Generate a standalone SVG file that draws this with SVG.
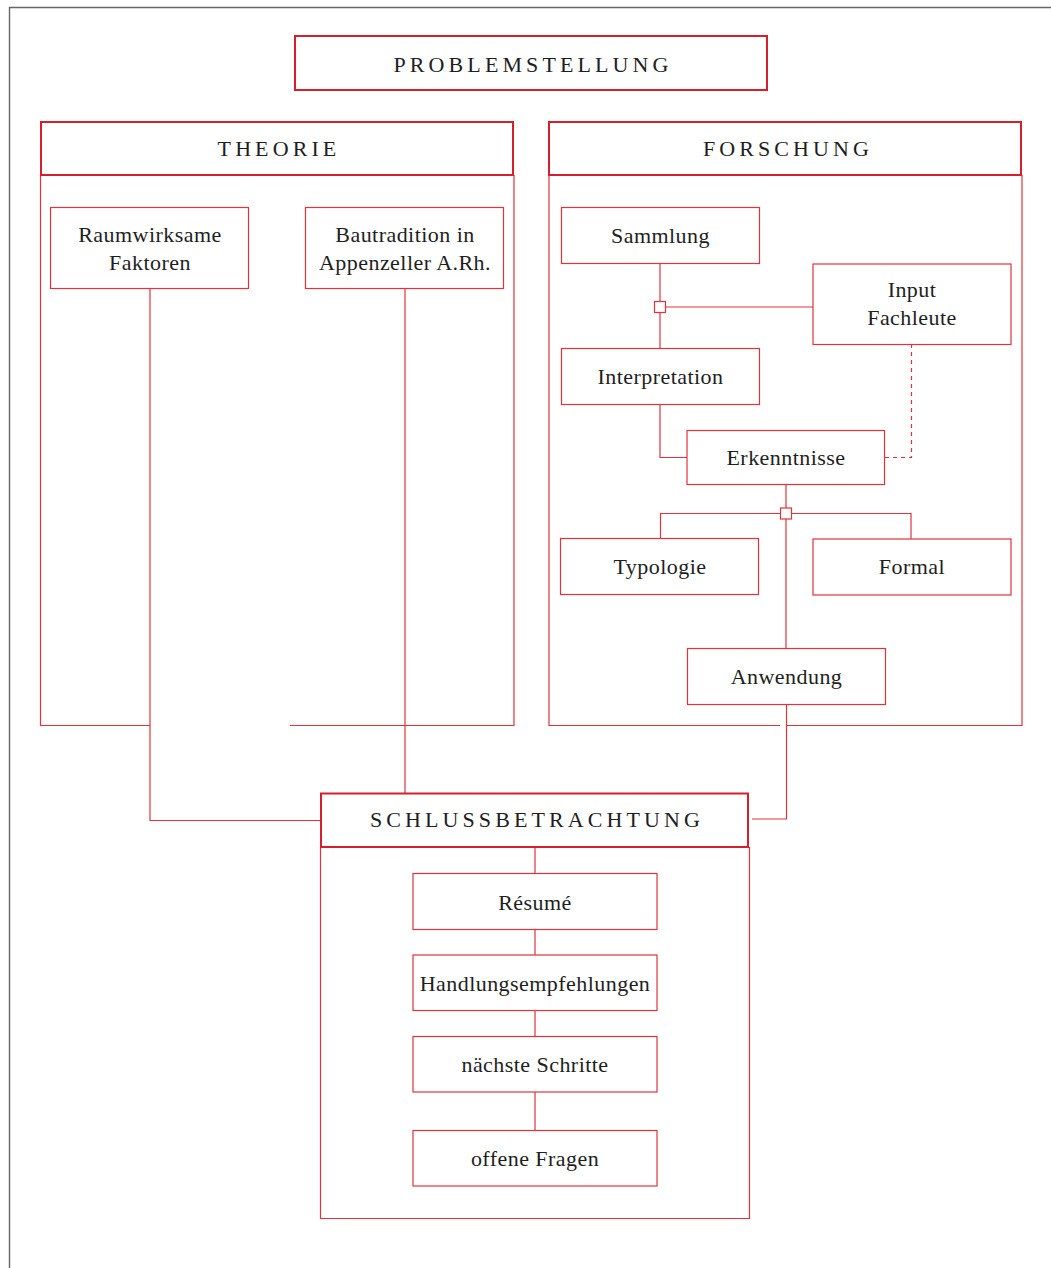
<svg xmlns="http://www.w3.org/2000/svg" width="1051" height="1268" viewBox="0 0 1051 1268">
<style>
.hd{fill:#fff;stroke:#d81e2a;stroke-width:2}
.bx{fill:#fff;stroke:#e2333d;stroke-width:1.2}
.ln{fill:none;stroke:#e2333d;stroke-width:1.2}
.ds{fill:none;stroke:#e2333d;stroke-width:1.2;stroke-dasharray:4 4}
.ht{font-family:"Liberation Serif",serif;font-size:22px;letter-spacing:4.1px;fill:#1e1e1e;text-anchor:middle}
.nt{font-family:"Liberation Serif",serif;font-size:22px;letter-spacing:0.45px;fill:#1e1e1e;text-anchor:middle}
</style>
<rect width="1051" height="1268" fill="#fff"/>
<path d="M9.5 1268 V7.5 H1051" fill="none" stroke="#666" stroke-width="1.4"/>

<g id="containers">
<path class="ln" d="M150 725.5 H40.5 V175 M290 725.5 H514 V175"/>
<path class="ln" d="M780 725.5 H549 V175 M787 725.5 H1022 V175"/>
<path class="ln" d="M320.5 847 V1218.5 H749.5 V847"/>
</g>

<g id="connectors">
<path class="ln" d="M150 288 V820.5 H321"/>
<path class="ln" d="M405 289 V793"/>
<path class="ln" d="M660 263 V348"/>
<path class="ln" d="M665.5 307 H813"/>
<path class="ln" d="M660 404 V457.5 H687"/>
<path class="ds" d="M911.5 344 V457.5 H884"/>
<path class="ln" d="M786 484 V508"/>
<path class="ln" d="M780 513.5 H660.5 V538 M791.5 513.5 H911 V539"/>
<path class="ln" d="M786 519 V648"/>
<path class="ln" d="M786.5 704 V819 H752"/>
<path class="ln" d="M535 847 V873 M535 929 V955 M535 1010 V1036 M535 1092 V1130"/>
<rect class="bx" x="654.5" y="301.5" width="11" height="11"/>
<rect class="bx" x="780.5" y="508" width="11" height="11"/>
</g>

<g id="problemstellung">
<rect class="hd" x="295" y="36" width="472" height="54"/>
<text class="ht" x="533" y="71.5">PROBLEMSTELLUNG</text>
</g>
<g id="theorie">
<rect class="hd" x="41" y="122" width="472" height="53"/>
<text class="ht" x="279" y="156">THEORIE</text>
</g>
<g id="forschung">
<rect class="hd" x="549" y="122" width="472" height="53"/>
<text class="ht" x="788" y="156">FORSCHUNG</text>
</g>
<g id="schlussbetrachtung">
<rect class="hd" x="321" y="793.5" width="427" height="53.5"/>
<text class="ht" x="537" y="827">SCHLUSSBETRACHTUNG</text>
</g>

<g id="raumwirksame">
<rect class="bx" x="50.5" y="207.5" width="198" height="81"/>
<text class="nt" x="150" y="242">Raumwirksame</text>
<text class="nt" x="150" y="269.5">Faktoren</text>
</g>
<g id="bautradition">
<rect class="bx" x="305.5" y="207.5" width="198" height="81"/>
<text class="nt" x="405" y="242">Bautradition in</text>
<text class="nt" x="405" y="269.5">Appenzeller A.Rh.</text>
</g>
<g id="sammlung">
<rect class="bx" x="561.5" y="207.5" width="198" height="56"/>
<text class="nt" x="660.5" y="243">Sammlung</text>
</g>
<g id="input">
<rect class="bx" x="813" y="264" width="198" height="80.5"/>
<text class="nt" x="912" y="297">Input</text>
<text class="nt" x="912" y="325">Fachleute</text>
</g>
<g id="interpretation">
<rect class="bx" x="561.5" y="348.5" width="198" height="56"/>
<text class="nt" x="660.5" y="384">Interpretation</text>
</g>
<g id="erkenntnisse">
<rect class="bx" x="687" y="430.5" width="197.5" height="54"/>
<text class="nt" x="786" y="465">Erkenntnisse</text>
</g>
<g id="typologie">
<rect class="bx" x="560.5" y="538.5" width="198" height="56"/>
<text class="nt" x="660" y="573.5">Typologie</text>
</g>
<g id="formal">
<rect class="bx" x="813" y="539" width="198" height="56"/>
<text class="nt" x="912" y="574">Formal</text>
</g>
<g id="anwendung">
<rect class="bx" x="687.5" y="648.5" width="198" height="56"/>
<text class="nt" x="786.5" y="684">Anwendung</text>
</g>
<g id="resume">
<rect class="bx" x="413" y="873.5" width="244" height="56"/>
<text class="nt" x="535" y="910">Résumé</text>
</g>
<g id="handlungsempfehlungen">
<rect class="bx" x="413" y="955" width="244" height="55.5"/>
<text class="nt" x="535" y="991">Handlungsempfehlungen</text>
</g>
<g id="naechste">
<rect class="bx" x="413" y="1036.5" width="244" height="55.5"/>
<text class="nt" x="535" y="1072">nächste Schritte</text>
</g>
<g id="offene">
<rect class="bx" x="413" y="1130.5" width="244" height="55.5"/>
<text class="nt" x="535" y="1166">offene Fragen</text>
</g>
</svg>
